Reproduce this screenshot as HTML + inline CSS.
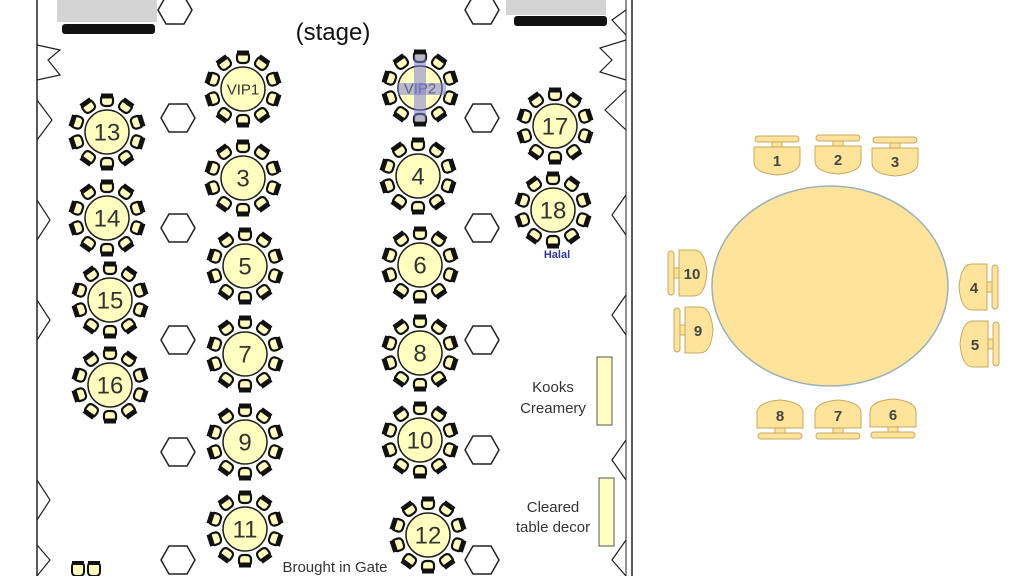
<!DOCTYPE html>
<html><head><meta charset="utf-8"><style>
html,body{margin:0;padding:0;background:#fff;width:1024px;height:576px;overflow:hidden}
svg{display:block;font-family:"Liberation Sans",sans-serif}
</style></head><body>
<svg id="s" width="1024" height="576" viewBox="0 0 1024 576">
<rect x="57" y="0" width="100" height="22" fill="#d4d4d4"/>
<rect x="62" y="24" width="93" height="10" rx="3" fill="#111"/>
<rect x="506" y="0" width="100" height="15" fill="#d4d4d4"/>
<rect x="514" y="16" width="93" height="10" rx="3" fill="#111"/>
<line x1="37" y1="0" x2="37" y2="576" stroke="#222" stroke-width="1.5"/>
<line x1="632" y1="0" x2="632" y2="576" stroke="#222" stroke-width="1.5"/>
<line x1="626" y1="0" x2="626" y2="576" stroke="#222" stroke-width="1"/>
<path d="M37 45 L60 50 L48 60 L60 75 L37 80 M37 100 L52 120 L37 140 M37 200 L50 220 L37 240 M37 300 L50 320 L37 340 M37 480 L50 500 L37 520 M37 545 L50 560 L37 576" fill="none" stroke="#222" stroke-width="1.2"/>
<path d="M626 40 L600 48 L612 60 L600 72 L626 80 M626 90 L605 110 L626 130 M626 195 L612 215 L626 235 M626 295 L612 315 L626 335 M626 440 L612 460 L626 480 M626 540 L612 560 L626 576 M626 10 L612 20 L626 35" fill="none" stroke="#222" stroke-width="1.2"/>
<rect x="597" y="357" width="15" height="68" fill="#ffffc0" stroke="#555"/>
<rect x="599" y="478" width="15" height="68" fill="#ffffc0" stroke="#555"/>
<text x="333" y="40" font-size="24" text-anchor="middle" fill="#111">(stage)</text>
<text x="553" y="392" font-size="15" text-anchor="middle" fill="#333">Kooks</text>
<text x="553" y="413" font-size="15" text-anchor="middle" fill="#333">Creamery</text>
<text x="553" y="512" font-size="15" text-anchor="middle" fill="#333">Cleared</text>
<text x="553" y="532" font-size="15" text-anchor="middle" fill="#333">table decor</text>
<text x="335" y="572" font-size="15" text-anchor="middle" fill="#333">Brought in Gate</text>
<text x="557" y="258" font-size="11" font-weight="bold" text-anchor="middle" fill="#33a">Halal</text>
<g id="t"></g>
<ellipse cx="830" cy="286" rx="118" ry="100" fill="#fde49a" stroke="#9ab0bb" stroke-width="1.5"/>
<g id="c" fill="#fde49a" stroke="#c8a860" stroke-width="1"></g>
</svg>
<script>
var ns="http://www.w3.org/2000/svg",t=document.getElementById('t');
function el(p,n,a,txt){var e=document.createElementNS(ns,n);for(var k in a)e.setAttribute(k,a[k]);if(txt!=null)e.textContent=txt;p.appendChild(e);return e;}
var hex=[[175,10],[178,118],[178,228],[178,340],[178,452],[178,560],[482,10],[482,118],[482,228],[482,340],[482,450],[482,560]];
hex.forEach(function(h){var x=h[0],y=h[1];el(t,'polygon',{points:(x-17)+','+y+' '+(x-9)+','+(y-14)+' '+(x+9)+','+(y-14)+' '+(x+17)+','+y+' '+(x+9)+','+(y+14)+' '+(x-9)+','+(y+14),fill:'#fff',stroke:'#222','stroke-width':1.5});});
var tb=[[243,89,'VIP1'],[107,132,'13'],[243,178,'3'],[107,218,'14'],[245,266,'5'],[110,300,'15'],[245,354,'7'],[110,385,'16'],[245,442,'9'],[245,529,'11'],[420,88,'VIP2'],[418,176,'4'],[420,265,'6'],[420,353,'8'],[420,440,'10'],[428,535,'12'],[555,126,'17'],[553,210,'18']];
tb.forEach(function(q){var x=q[0],y=q[1];
for(var i=0;i<10;i++){var a=i*Math.PI/5-Math.PI/2,cx=x+31*Math.cos(a),cy=y+31*Math.sin(a);
var g=el(t,'g',{transform:'translate('+cx+','+cy+') rotate('+(i*36)+')'});
el(g,'rect',{x:-6,y:-6,width:12,height:11,rx:4,fill:'#ffffc0',stroke:'#111','stroke-width':2.2});
el(g,'rect',{x:-6,y:-7.5,width:12,height:5,fill:'#111'});}
el(t,'circle',{cx:x,cy:y,r:22,fill:'#ffffc0',stroke:'#222','stroke-width':1.5});
var fs=q[2].length>2?15:24;
el(t,'text',{x:x,y:y+fs*0.36,'font-size':fs,'text-anchor':'middle',fill:'#333'},q[2]);});
el(t,'rect',{x:414,y:55,width:12,height:66,fill:'#8080d0',opacity:0.55});
el(t,'rect',{x:398,y:83,width:48,height:12,fill:'#8080d0',opacity:0.55});
[[78,568],[94,568]].forEach(function(p){el(t,'rect',{x:p[0]-6,y:p[1]-6,width:12,height:14,rx:4,fill:'#ffffc0',stroke:'#111','stroke-width':2});el(t,'rect',{x:p[0]-6,y:p[1]-7,width:12,height:4,fill:'#111'});});
var c=document.getElementById('c');
function chair(x,y,rot,n){var g=el(c,'g',{transform:'translate('+x+','+y+') rotate('+rot+')'});
el(g,'rect',{x:-22,y:-24,width:44,height:6,rx:3});
el(g,'rect',{x:-5,y:-18,width:10,height:5});
el(g,'path',{d:'M-23 -13 H23 V2 Q23 13 0 15 Q-23 13 -23 2 Z'});
el(c,'text',{x:x,y:y+6,'font-size':15,'text-anchor':'middle',fill:'#444',stroke:'none','font-weight':'bold'},n);}
chair(777,160,0,'1');chair(838,159,0,'2');chair(895,161,0,'3');
chair(780,415,180,'8');chair(838,415,180,'7');chair(893,414,180,'6');
chair(692,273,-90,'10');chair(698,330,-90,'9');
chair(974,287,90,'4');chair(975,344,90,'5');
</script>
</body></html>
